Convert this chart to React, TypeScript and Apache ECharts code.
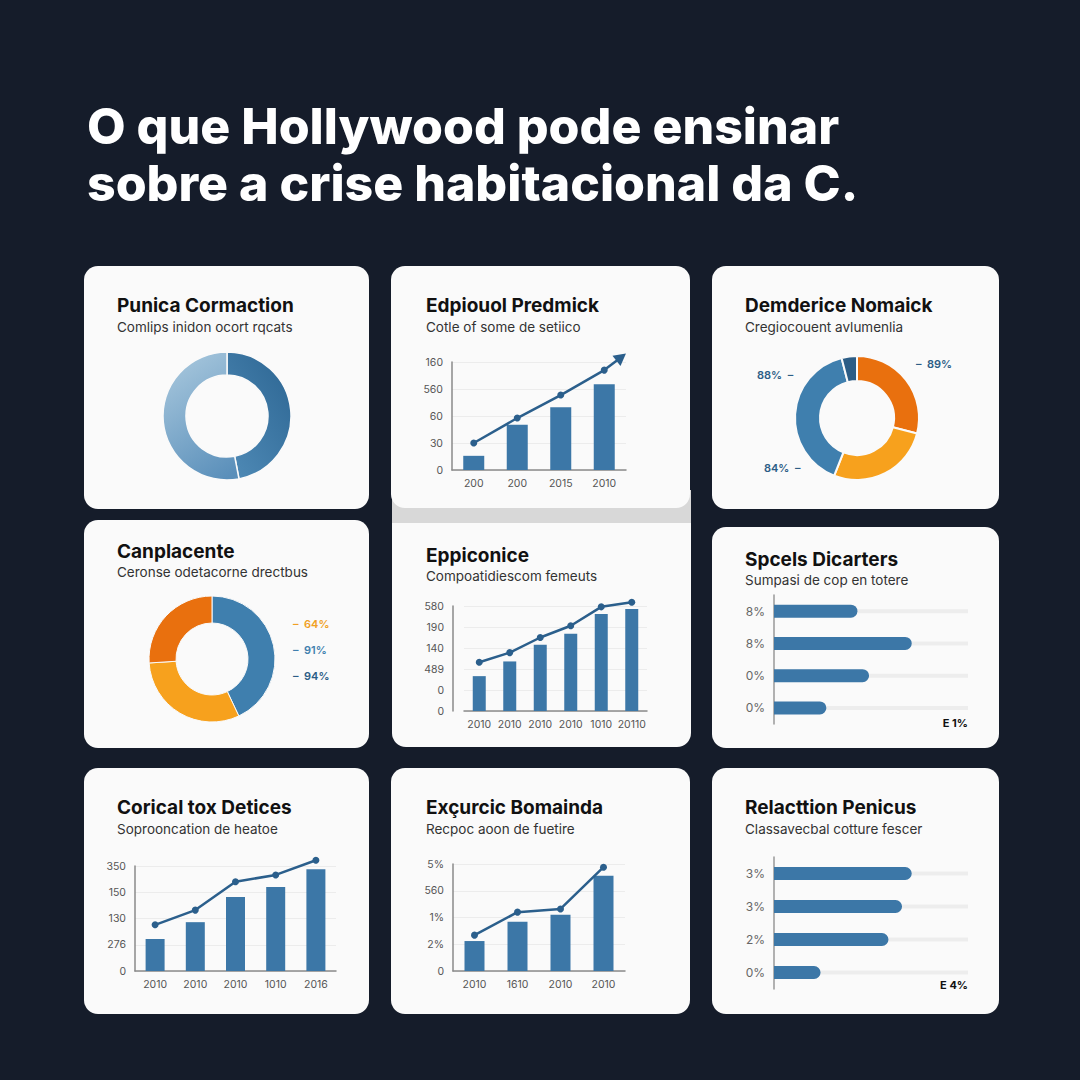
import React, { useEffect, useRef } from "react";
import * as echarts from "echarts";

// ---------- DATA ----------
const pageTitle = ["O que Hollywood pode ensinar", "sobre a crise habitacional da C."];
const cardTitles = [
  "Punica Cormaction",
  "Edpiouol Predmick",
  "Demderice Nomaick",
  "Canplacente",
  "Eppiconice",
  "Spcels Dicarters",
  "Corical tox Detices",
  "Exçurcic Bomainda",
  "Relacttion Penicus",
];
const cardSubtitles = [
  "Comlips inidon ocort rqcats",
  "Cotle of some de setiico",
  "Cregiocouent avlumenlia",
  "Ceronse odetacorne drectbus",
  "Compoatidiescom femeuts",
  "Sumpasi de cop en totere",
  "Soprooncation de heatoe",
  "Recpoc aoon de fuetire",
  "Classavecbal cotture fescer",
];

// Card 1 – two-part donut
const donut1Values = [47, 53];

// Card 2 – bars + trend line with arrow
const c2Years = ["200", "200", "2015", "2010"];
const c2YLabels = ["0", "30", "60", "560", "160"];
const c2Bars = [21, 67, 93, 127];
const c2Line = [40, 77, 111, 148];
const c2ArrowTip = [3.39, 167];

// Card 3 – four-part donut
const donut3Values = [29, 27, 40, 4];
const donut3Labels = ["88%", "89%", "84%"];

// Card 4 – three-part donut
const donut4Values = [43, 31, 26];
const donut4Labels = ["64%", "91%", "94%"];

// Card 5 – six bars + line
const c5Years = ["2010", "2010", "2010", "2010", "1010", "20110"];
const c5YLabels = ["0", "0", "489", "140", "190", "580"];
const c5Bars = [83, 118, 158, 184, 231, 243];
const c5Line = [116, 139, 175, 203, 248, 259];

// Card 6 – horizontal bars
const c6Labels = ["8%", "8%", "0%", "0%"];
const c6Values = [43, 71, 49, 27];
const c6Note = "E 1%";

// Card 7 – five bars + line
const c7Years = ["2010", "2010", "2010", "1010", "2016"];
const c7YLabels = ["0", "276", "130", "150", "350"];
const c7Bars = [61, 93, 141, 160, 194];
const c7Line = [88, 116, 170, 183, 211];

// Card 8 – four bars + line
const c8Years = ["2010", "1610", "2010", "2010"];
const c8YLabels = ["0", "2%", "1%", "560", "5%"];
const c8Bars = [56, 92, 105, 178];
const c8Line = [67, 110, 116, 194];

// Card 9 – horizontal bars
const c9Labels = ["3%", "3%", "2%", "0%"];
const c9Values = [71, 66, 59, 24];
const c9Note = "E 4%";

const trackMax = 100;

// ---------- LAYOUT / STYLE ----------
const FONT = 'Inter, "Noto Sans", Roboto, sans-serif';
const BG = "#151c2a";
const CARD = "#fafafa";
const BAR = "#3c77a7";
const LINE = "#2b5f8c";
const AXIS = "#8a8a8a";
const SPLIT = "#ececec";
const BLUE = "#3f7fae";
const DARKBLUE = "#2c5d86";
const ORANGE = "#e9700e";
const YELLOW = "#f7a11d";

// x, y, w, h, radius
const cardRects: [number, number, number, number, number[]][] = [
  [84, 266, 285, 243, [14, 14, 14, 14]],
  [391, 266, 299, 242, [14, 14, 14, 14]],
  [712, 266, 287, 243, [14, 14, 14, 14]],
  [84, 520, 285, 228, [14, 14, 14, 14]],
  [392, 523, 299, 224, [0, 0, 14, 14]],
  [712, 527, 287, 221, [14, 14, 14, 14]],
  [84, 768, 285, 246, [14, 14, 14, 14]],
  [391, 768, 299, 246, [14, 14, 14, 14]],
  [712, 768, 287, 246, [14, 14, 14, 14]],
];
// title text x, title y, subtitle y
const cardTextPos: [number, number, number][] = [
  [117, 305, 327],
  [426, 305, 327],
  [745, 305, 327],
  [117, 551, 572],
  [426, 555, 576],
  [745, 559, 580],
  [117, 807, 829],
  [426, 807, 829],
  [745, 807, 829],
];

export default function App() {
  const ref = useRef<HTMLDivElement>(null);

  useEffect(() => {
    if (!ref.current) return;
    document.body.style.margin = "0";
    document.body.style.background = BG;
    const chart = echarts.init(ref.current, undefined, { renderer: "svg" });

    const grid: any[] = [];
    const xAxis: any[] = [];
    const yAxis: any[] = [];
    const series: any[] = [];

    const axisLabelStyle = { color: "#555", fontSize: 10.5, fontFamily: FONT };

    function combo(
      rect: { left: number; top: number; width: number; height: number },
      years: string[],
      yLabels: string[],
      max: number,
      interval: number,
      bars: number[],
      line: number[],
      barWidth: number,
      offset: number,
      arrowTip?: number[]
    ) {
      const g = grid.length;
      grid.push({ ...rect });
      const xi = xAxis.length;
      xAxis.push({
        type: "category",
        gridIndex: g,
        data: years,
        axisLine: { onZero: false, lineStyle: { color: AXIS, width: 1.5 } },
        axisTick: { show: false },
        axisLabel: { ...axisLabelStyle, margin: 8, interval: 0 },
        splitLine: { show: false },
      });
      const yi = yAxis.length;
      yAxis.push({
        type: "value",
        gridIndex: g,
        min: 0,
        max,
        interval,
        offset,
        axisLine: { show: true, onZero: false, lineStyle: { color: AXIS, width: 1.5 } },
        axisTick: { show: false },
        axisLabel: {
          ...axisLabelStyle,
          margin: 9,
          formatter: (v: number) => yLabels[Math.round(v / interval)] ?? "",
        },
        splitLine: { lineStyle: { color: SPLIT, width: 1 } },
      });
      series.push({
        type: "bar",
        xAxisIndex: xi,
        yAxisIndex: yi,
        data: bars,
        barWidth,
        itemStyle: { color: BAR },
        z: 3,
        silent: true,
      });
      if (arrowTip) {
        const xv = xAxis.length;
        xAxis.push({
          type: "value",
          gridIndex: g,
          min: -0.5,
          max: years.length - 0.5,
          show: false,
          axisLine: { onZero: false },
        });
        const pts: any[] = line.map((v, i) => [i, v]);
        pts.push({
          value: arrowTip,
          symbol: "triangle",
          symbolSize: [13, 12],
          symbolRotate: -52,
        });
        series.push({
          type: "line",
          xAxisIndex: xv,
          yAxisIndex: yi,
          data: pts,
          clip: false,
          symbol: "circle",
          symbolSize: 7,
          lineStyle: { color: LINE, width: 2.5 },
          itemStyle: { color: LINE },
          z: 5,
          silent: true,
        });
      } else {
        series.push({
          type: "line",
          xAxisIndex: xi,
          yAxisIndex: yi,
          data: line,
          clip: false,
          symbol: "circle",
          symbolSize: 7,
          lineStyle: { color: LINE, width: 2.5 },
          itemStyle: { color: LINE },
          z: 5,
          silent: true,
        });
      }
    }

    function hbars(
      rect: { left: number; top: number; width: number; height: number },
      labels: string[],
      values: number[]
    ) {
      const g = grid.length;
      grid.push({ ...rect });
      const xi = xAxis.length;
      xAxis.push({ type: "value", gridIndex: g, min: 0, max: trackMax, show: false });
      const y0 = yAxis.length;
      yAxis.push({
        type: "category",
        gridIndex: g,
        data: labels,
        inverse: true,
        axisLine: { show: true, onZero: false, lineStyle: { color: "#999", width: 1.5 } },
        axisTick: { show: false },
        axisLabel: { color: "#666", fontSize: 12, fontFamily: FONT, margin: 9, interval: 0 },
        splitLine: { show: false },
      });
      const y1 = yAxis.length;
      yAxis.push({ type: "category", gridIndex: g, data: labels, inverse: true, show: false });
      series.push({
        type: "bar",
        xAxisIndex: xi,
        yAxisIndex: y1,
        data: labels.map(() => trackMax),
        barWidth: 4,
        itemStyle: { color: "#ededed" },
        z: 1,
        silent: true,
      });
      series.push({
        type: "bar",
        xAxisIndex: xi,
        yAxisIndex: y0,
        data: values,
        barWidth: 13,
        itemStyle: { color: BAR, borderRadius: [0, 7, 7, 0] },
        z: 3,
        silent: true,
      });
    }

    // Card 2
    combo({ left: 452, top: 362, width: 174, height: 108 }, c2Years, c2YLabels, 160, 40, c2Bars, c2Line, 21, 0, c2ArrowTip);
    // Card 5
    combo({ left: 464, top: 606, width: 183, height: 105 }, c5Years, c5YLabels, 250, 50, c5Bars, c5Line, 13, 11);
    // Card 7
    combo({ left: 135, top: 866, width: 201, height: 105 }, c7Years, c7YLabels, 200, 50, c7Bars, c7Line, 19, 0);
    // Card 8
    combo({ left: 453, top: 864, width: 172, height: 107 }, c8Years, c8YLabels, 200, 50, c8Bars, c8Line, 20, 0);
    // Card 6
    hbars({ left: 774, top: 595, width: 194, height: 129 }, c6Labels, c6Values);
    // Card 9
    hbars({ left: 774, top: 857, width: 194, height: 132 }, c9Labels, c9Values);

    const pieBase = {
      type: "pie",
      startAngle: 90,
      clockwise: true,
      label: { show: false },
      labelLine: { show: false },
      silent: true,
      z: 3,
    };

    // Card 1 donut
    series.push({
      ...pieBase,
      center: [227, 416],
      radius: [41, 64],
      itemStyle: { borderColor: "#fafafa", borderWidth: 1.5 },
      data: [
        {
          value: donut1Values[0],
          itemStyle: {
            color: new echarts.graphic.LinearGradient(1, 0, 0.2, 1, [
              { offset: 0, color: "#2c6592" },
              { offset: 1, color: "#4d88b4" },
            ]),
          },
        },
        {
          value: donut1Values[1],
          itemStyle: {
            color: new echarts.graphic.LinearGradient(0.4, 0, 0.8, 1, [
              { offset: 0, color: "#a3c4db" },
              { offset: 1, color: "#5a8fba" },
            ]),
          },
        },
      ],
    });

    // Card 3 donut
    series.push({
      ...pieBase,
      center: [857, 418],
      radius: [37, 62],
      itemStyle: { borderColor: "#fafafa", borderWidth: 2 },
      data: donut3Values.map((v, i) => ({
        value: v,
        itemStyle: { color: [ORANGE, YELLOW, BLUE, DARKBLUE][i] },
      })),
    });

    // Card 4 donut
    series.push({
      ...pieBase,
      center: [212, 659],
      radius: [36, 63],
      itemStyle: { borderColor: "#fafafa", borderWidth: 1 },
      data: donut4Values.map((v, i) => ({
        value: v,
        itemStyle: { color: [BLUE, YELLOW, ORANGE][i] },
      })),
    });

    // ---------- graphic ----------
    const graphic: any[] = [];
    graphic.push({
      type: "rect",
      shape: { x: 392, y: 490, width: 299, height: 33 },
      style: { fill: "#d8d8d8" },
      z: -2,
      silent: true,
    });
    cardRects.forEach(([x, y, w, h, r]) => {
      graphic.push({
        type: "rect",
        shape: { x, y, width: w, height: h, r },
        style: { fill: CARD },
        z: -1,
        silent: true,
      });
    });
    pageTitle.forEach((t, i) => {
      graphic.push({
        type: "text",
        x: 87,
        y: 126 + i * 57,
        style: {
          text: t,
          fill: "#ffffff",
          fontSize: 50,
          fontWeight: 800,
          fontFamily: FONT,
          verticalAlign: "middle",
          align: "left",
        },
        z: 10,
      });
    });
    cardTitles.forEach((t, i) => {
      const [x, ty, sy] = cardTextPos[i];
      graphic.push({
        type: "text",
        x,
        y: ty,
        style: {
          text: t,
          fill: "#111111",
          fontSize: 19,
          fontWeight: 700,
          fontFamily: FONT,
          verticalAlign: "middle",
        },
        z: 10,
      });
      graphic.push({
        type: "text",
        x,
        y: sy,
        style: {
          text: cardSubtitles[i],
          fill: "#333333",
          fontSize: 13.5,
          fontWeight: 400,
          fontFamily: FONT,
          verticalAlign: "middle",
        },
        z: 10,
      });
    });

    const smallLabel = (text: string, x: number, y: number, fill: string, align = "left") => ({
      type: "text",
      x,
      y,
      style: {
        text,
        fill,
        fontSize: 11,
        fontWeight: 600,
        fontFamily: FONT,
        verticalAlign: "middle",
        align,
      },
      z: 10,
    });
    graphic.push(smallLabel(donut3Labels[0] + "  –", 757, 375, DARKBLUE));
    graphic.push(smallLabel("–  " + donut3Labels[1], 916, 364, DARKBLUE));
    graphic.push(smallLabel(donut3Labels[2] + "  –", 764, 468, DARKBLUE));
    graphic.push(smallLabel("–  " + donut4Labels[0], 293, 624, "#f0a022"));
    graphic.push(smallLabel("–  " + donut4Labels[1], 293, 650, BLUE));
    graphic.push(smallLabel("–  " + donut4Labels[2], 293, 676, DARKBLUE));
    graphic.push({
      type: "text",
      x: 968,
      y: 723,
      style: { text: c6Note, fill: "#111", fontSize: 11, fontWeight: 700, fontFamily: FONT, verticalAlign: "middle", align: "right" },
      z: 10,
    });
    graphic.push({
      type: "text",
      x: 968,
      y: 985,
      style: { text: c9Note, fill: "#111", fontSize: 11, fontWeight: 700, fontFamily: FONT, verticalAlign: "middle", align: "right" },
      z: 10,
    });

    chart.setOption({
      animation: false,
      backgroundColor: BG,
      grid,
      xAxis,
      yAxis,
      series,
      graphic: { elements: graphic },
    });

    return () => chart.dispose();
  }, []);

  return (
    <div
      ref={ref}
      style={{ position: "absolute", left: 0, top: 0, width: 1080, height: 1080 }}
    />
  );
}
